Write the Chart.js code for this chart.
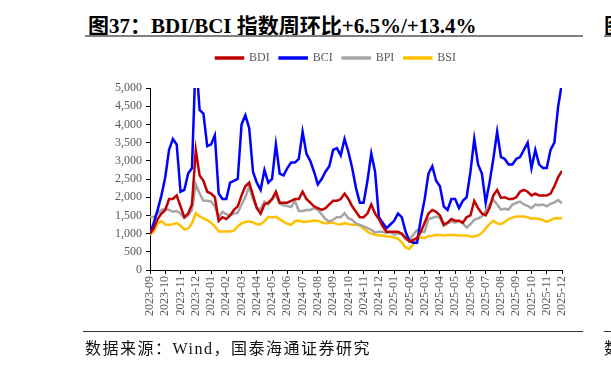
<!DOCTYPE html>
<html>
<head>
<meta charset="utf-8">
<script src="https://cdn.jsdelivr.net/npm/chart.js@4"></script>
<style>
  html, body { margin: 0; padding: 0; background: #fff; }
  body { width: 611px; height: 365px; position: relative; overflow: hidden; }
  #title { position: absolute; left: 88px; top: 9px; white-space: nowrap;
    font: bold 21px "Liberation Serif", "Noto Sans CJK SC", serif; color: #000; }
  #title .lat { font-family: "Liberation Serif", serif; font-weight: bold; }
  #title2 { position: absolute; left: 604px; top: 9px; white-space: nowrap;
    font: bold 21px "Noto Sans CJK SC", serif; color: #000; }
  .rule { position: absolute; }
  #source { position: absolute; left: 85px; top: 335px; white-space: nowrap; letter-spacing: 1.5px;
    font: 16px "Liberation Serif", "Noto Sans CJK SC", serif; color: #111; }
  #source2 { position: absolute; left: 604px; top: 335px; white-space: nowrap;
    font: 16px "Noto Sans CJK SC", serif; color: #111; }
  #wrap { position: absolute; left: 0; top: 0; width: 611px; height: 365px; }
</style>
</head>
<body>
<div id="title">图<span class="lat">37</span>：<span class="lat">BDI/BCI </span>指数周环比<span class="lat">+6.5%/+13.4%</span></div>
<div id="title2">图</div>
<div class="rule" style="left:85px;top:35px;width:498px;height:2px;background:#7f7f7f"></div>
<div class="rule" style="left:604px;top:35px;width:10px;height:2px;background:#7f7f7f"></div>
<div id="wrap"><canvas id="chart" width="611" height="365"></canvas></div>
<div class="rule" style="left:83px;top:331px;width:500px;height:1px;background:#333"></div>
<div class="rule" style="left:604px;top:331px;width:10px;height:1px;background:#333"></div>
<div id="source">数据来源：Wind，国泰海通证券研究</div>
<div id="source2">数</div>

<script>
// month tick labels on the x axis
var months = ['2023-09', '2023-10', '2023-11', '2023-12', '2024-01', '2024-02', '2024-03',
  '2024-04', '2024-05', '2024-06', '2024-07', '2024-08', '2024-09', '2024-10', '2024-11',
  '2024-12', '2025-01', '2025-02', '2025-03', '2025-04', '2025-05', '2025-06', '2025-07',
  '2025-08', '2025-09', '2025-10', '2025-11', '2025-12'];

// weekly readings (4 per month)
var bdi = [1000, 1150, 1400, 1550, 1650, 1950, 1950, 2050, 1750, 1450, 1550, 1800,
  3300, 2600, 2450, 2150, 2100, 2000, 1350, 1450, 1400, 1500, 1650, 1750,
  2050, 2300, 2400, 2050, 1700, 1550, 1800, 1850, 1950, 2150, 1850, 1850,
  1850, 1900, 1950, 1950, 2150, 1950, 1850, 1750, 1700, 1650, 1700, 1800,
  1900, 1900, 1950, 2100, 1950, 1750, 1600, 1450, 1450, 1550, 1800, 1550,
  1400, 1200, 1050, 1050, 1050, 1050, 1000, 880, 780, 830, 880, 1050,
  1300, 1550, 1650, 1600, 1500, 1250, 1300, 1400, 1350, 1350, 1300, 1450,
  1500, 1900, 1700, 1550, 1500, 1700, 2050, 2200, 1980, 2000, 1950, 1950,
  2000, 2150, 2200, 2150, 2050, 2100, 2050, 2050, 2050, 2100, 2300, 2550, 2720];

var bci = [1000, 1300, 1650, 2050, 2550, 3300, 3600, 3450, 2150, 2200, 2650, 2800,
  5900, 4400, 4300, 3400, 3450, 3700, 2100, 1950, 1950, 2400, 2450, 2500,
  4000, 4250, 3900, 2700, 2400, 2200, 2750, 2400, 2500, 3450, 2650, 2600,
  2800, 2950, 2950, 3050, 3800, 3200, 3000, 2700, 2350, 2500, 2700, 2850,
  3300, 3350, 3150, 3600, 3250, 2800, 2250, 1850, 1850, 2450, 3200, 2700,
  1450, 1300, 1150, 1250, 1350, 1550, 1450, 1050, 800, 750, 750, 1400,
  1950, 2650, 2850, 2450, 2300, 1750, 1650, 1950, 1950, 1700, 1900, 2000,
  2700, 3600, 2900, 2650, 1850, 2400, 3050, 3800, 3100, 3050, 2900, 2900,
  3050, 3100, 3300, 3500, 2800, 3300, 2900, 2800, 2800, 3300, 3500, 4500, 5150];

var bpi = [1470, 1450, 1550, 1650, 1680, 1650, 1600, 1620, 1550, 1430, 1500, 1650,
  2350, 2100, 1900, 1900, 1880, 1750, 1450, 1600, 1530, 1500, 1550, 1570,
  1800, 2000, 2300, 1950, 1700, 1680, 1880, 1800, 1930, 2070, 1820, 1780,
  1760, 1730, 1900, 1620, 1620, 1650, 1650, 1700, 1650, 1530, 1400, 1330,
  1380, 1450, 1450, 1560, 1420, 1380, 1280, 1240, 1200, 1150, 1100, 1030,
  1050, 1050, 1020, 1040, 970, 1010, 980, 840, 830, 970, 1100, 1050,
  1050, 1400, 1430, 1470, 1430, 1210, 1280, 1330, 1300, 1350, 1280, 1170,
  1260, 1380, 1420, 1470, 1620, 1800, 1930, 1800, 1660, 1680, 1660, 1800,
  1840, 1880, 1800, 1760, 1700, 1800, 1780, 1800, 1750, 1820, 1860, 1920, 1830];

var bsi = [970, 1060, 1280, 1340, 1250, 1240, 1260, 1290, 1220, 1110, 1140, 1280,
  1560, 1470, 1420, 1370, 1300, 1200, 1060, 1060, 1060, 1060, 1080, 1200,
  1280, 1320, 1340, 1310, 1260, 1260, 1340, 1460, 1440, 1460, 1390, 1330,
  1270, 1240, 1340, 1360, 1320, 1330, 1340, 1360, 1350, 1310, 1280, 1300,
  1300, 1260, 1250, 1290, 1260, 1240, 1240, 1220, 1140, 1050, 1000, 970,
  950, 950, 920, 920, 890, 860, 760, 620, 580, 710, 830, 890,
  880, 930, 940, 960, 960, 950, 960, 960, 960, 950, 950, 950,
  920, 920, 950, 1020, 1140, 1260, 1350, 1280, 1260, 1320, 1400, 1440,
  1470, 1470, 1470, 1450, 1410, 1420, 1400, 1370, 1320, 1370, 1420, 1430, 1420];

var pointsPerMonth = 4;

// turn a series into {x, y} points, x measured in months from 2023-09
function toPoints(values) {
  return values.map(function (v, i) { return { x: i / pointsPerMonth, y: v }; });
}

function series(label, values, color) {
  return {
    label: label,
    data: toPoints(values),
    borderColor: color,
    backgroundColor: color,
    borderWidth: 2.5,
    pointRadius: 0,
    tension: 0
  };
}

var axisFont = { family: 'Liberation Serif', size: 12 };

// leave some extra room between the legend and the plot
var legendGap = {
  id: 'legendGap',
  afterInit: function (chart) {
    var fit = chart.legend.fit;
    chart.legend.fit = function () {
      fit.call(this);
      this.height += 14;
    };
  }
};

new Chart(document.getElementById('chart').getContext('2d'), {
  type: 'line',
  data: {
    datasets: [
      series('BDI', bdi, '#C00000'),
      series('BCI', bci, '#0000FF'),
      series('BPI', bpi, '#A5A5A5'),
      series('BSI', bsi, '#FFC000')
    ]
  },
  plugins: [legendGap],
  options: {
    responsive: false,
    animation: false,
    layout: { padding: { left: 110, right: 49, top: 42, bottom: 45 } },
    plugins: {
      legend: {
        position: 'top',
        labels: { boxWidth: 27, boxHeight: 1, padding: 10, color: '#595959', font: axisFont }
      },
      tooltip: { enabled: false }
    },
    scales: {
      x: {
        type: 'linear',
        min: 0,
        max: months.length - 1,
        grid: { drawOnChartArea: false, tickLength: 4, color: '#000' },
        border: { color: '#000' },
        ticks: {
          stepSize: 1,
          autoSkip: false,
          minRotation: 90,
          maxRotation: 90,
          padding: 2,
          color: '#595959',
          font: axisFont,
          callback: function (v) { return months[v]; }
        },
        afterFit: function (s) { s.height = 50; }
      },
      y: {
        min: 0,
        max: 5000,
        grid: { drawOnChartArea: false, tickLength: 4, color: '#000' },
        border: { color: '#000' },
        ticks: {
          stepSize: 500,
          padding: 4,
          color: '#595959',
          font: axisFont,
          callback: function (v) { return v.toLocaleString('en-US'); }
        },
        afterFit: function (s) { s.width = 40; }
      }
    }
  }
});
</script>
</body>
</html>
